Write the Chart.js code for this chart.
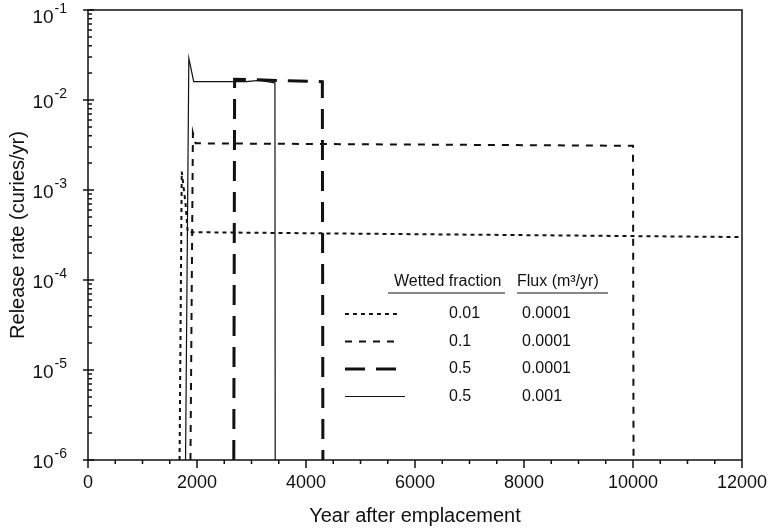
<!DOCTYPE html>
<html>
<head>
<meta charset="utf-8">
<script src="https://cdn.jsdelivr.net/npm/chart.js@4.4.1/dist/chart.umd.min.js"></script>
<style>
html,body{margin:0;padding:0;background:#fff;}
#wrap{width:776px;height:530px;}
</style>
</head>
<body>
<div id="wrap"><canvas id="my_Chart"></canvas></div>
<script>
// release rate (curies/yr) against year after emplacement
var dottedYears = [1680, 1720, 1790, 1830, 12000];
var dottedRates = [1e-6, 1.6e-3, 7e-4, 3.4e-4, 3.0e-4];

var dashedYears = [1880, 1925, 1975, 10000, 10010];
var dashedRates = [1e-6, 4.3e-3, 3.3e-3, 3.1e-3, 1e-6];

var longDashYears = [2675, 2690, 4300, 4310];
var longDashRates = [1e-6, 1.7e-2, 1.6e-2, 1e-6];

var solidYears = [1790, 1850, 1940, 2900, 3150, 3430, 3435];
var solidRates = [1e-6, 2.9e-2, 1.6e-2, 1.6e-2, 1.65e-2, 1.55e-2, 1e-6];

var wettedFractions = ['0.01', '0.1', '0.5', '0.5'];
var fluxes = ['0.0001', '0.0001', '0.0001', '0.001'];

var xTickValues = [0, 2000, 4000, 6000, 8000, 10000, 12000];
var yTickValues = [1e-6, 1e-5, 1e-4, 1e-3, 1e-2, 1e-1];
var yTickExponents = ['-6', '-5', '-4', '-3', '-2', '-1'];

function pts(xs, ys){
	var out = [];
	for (var i = 0; i < xs.length; i++) out.push({x: xs[i], y: ys[i]});
	return out;
}

var ink = '#111';
var FONT = "'Liberation Sans', Arial, sans-serif";

var series = [
	{data: pts(dottedYears, dottedRates), dash: [4, 4], width: 2},
	{data: pts(dashedYears, dashedRates), dash: [7, 7], width: 2},
	{data: pts(longDashYears, longDashRates), dash: [20, 11], width: 3},
	{data: pts(solidYears, solidRates), dash: [], width: 1.2}
];

var frame = {
	id: 'frame',
	afterDraw: function(chart){
		var ctx = chart.ctx, a = chart.chartArea;
		var xs = chart.scales.x, ys = chart.scales.y;
		ctx.save();
		ctx.strokeStyle = ink;
		ctx.lineWidth = 1.5;
		ctx.setLineDash([]);
		ctx.strokeRect(a.left, a.top, a.right - a.left, a.bottom - a.top);

		ctx.beginPath();
		for (var v = xs.min; v <= xs.max; v += 500) {
			var px = xs.getPixelForValue(v);
			var len = v % 2000 === 0 ? 8 : 4;
			ctx.moveTo(px, a.bottom);
			ctx.lineTo(px, a.bottom + len);
		}
		for (var d = 0; d < yTickValues.length; d++) {
			for (var m = 1; m <= 9; m++) {
				var val = m * yTickValues[d];
				if (val > ys.max * 1.0001) break;
				var py = ys.getPixelForValue(val);
				if (m === 1) { ctx.moveTo(a.left - 5, py); ctx.lineTo(a.left + 6, py); }
				else { ctx.moveTo(a.left, py); ctx.lineTo(a.left + 4, py); }
			}
		}
		ctx.stroke();

		// y tick labels: 10 with a raised exponent
		ctx.fillStyle = ink;
		ctx.textBaseline = 'middle';
		ctx.textAlign = 'right';
		for (var k = 0; k < yTickValues.length; k++) {
			var ty = ys.getPixelForValue(yTickValues[k]) + (k === yTickValues.length - 1 ? 8 : 3);
			var ex = a.left - 21;
			ctx.font = '14px ' + FONT;
			var ew = ctx.measureText(yTickExponents[k]).width;
			ctx.fillText(yTickExponents[k], ex, ty - 9);
			ctx.font = '19px ' + FONT;
			ctx.fillText('10', ex - ew - 1, ty);
		}

		// legend table
		var lx = a.left + 257, hy = a.top + 272;
		ctx.font = '16px ' + FONT;
		ctx.textAlign = 'left';
		ctx.fillText('Wetted fraction', lx + 49, hy);
		ctx.fillText('Flux (m\u00B3/yr)', lx + 172, hy);
		ctx.lineWidth = 1.2;
		ctx.beginPath();
		ctx.moveTo(lx + 43, hy + 11); ctx.lineTo(lx + 160, hy + 11);
		ctx.moveTo(lx + 172, hy + 11); ctx.lineTo(lx + 263, hy + 11);
		ctx.stroke();
		for (var i = 0; i < series.length; i++) {
			var ry = hy + 32 + i * 27.5;
			ctx.lineWidth = series[i].width;
			ctx.setLineDash(series[i].dash);
			ctx.beginPath();
			ctx.moveTo(lx, ry);
			ctx.lineTo(lx + (i === 3 ? 60 : 55), ry);
			ctx.stroke();
			ctx.setLineDash([]);
			ctx.fillText(wettedFractions[i], lx + 104, ry);
			ctx.fillText(fluxes[i], lx + 177, ry);
		}
		ctx.restore();
	}
};

new Chart(document.getElementById('my_Chart'), {
	type: 'line',
	data: {
		datasets: series.map(function(s){
			return {
				data: s.data,
				borderColor: ink,
				borderWidth: s.width,
				borderDash: s.dash,
				pointRadius: 0,
				tension: 0,
				fill: false,
				clip: false
			};
		})
	},
	options: {
		responsive: true,
		maintainAspectRatio: false,
		animation: false,
		layout: {padding: {top: 10, right: 34, left: 0, bottom: 0}},
		plugins: {legend: {display: false}, tooltip: {enabled: false}},
		scales: {
			x: {
				type: 'linear',
				min: 0,
				max: 12000,
				afterFit: function(s){ s.height = 70; s.paddingLeft = 0; s.paddingRight = 0; },
				afterBuildTicks: function(s){ s.ticks = xTickValues.map(function(v){ return {value: v}; }); },
				grid: {display: false, drawTicks: false},
				border: {display: false},
				ticks: {
					color: ink,
					font: {family: FONT, size: 18},
					padding: 12,
					maxRotation: 0,
					callback: function(v){ return String(v); }
				},
				title: {display: true, text: 'Year after emplacement', color: ink, font: {family: FONT, size: 20}, padding: {top: 4, bottom: 2}}
			},
			y: {
				type: 'logarithmic',
				min: 1e-6,
				max: 1e-1,
				afterFit: function(s){ s.width = 88; s.paddingTop = 0; s.paddingBottom = 0; },
				afterBuildTicks: function(s){ s.ticks = yTickValues.map(function(v){ return {value: v}; }); },
				grid: {display: false, drawTicks: false},
				border: {display: false},
				ticks: {display: false},
				title: {display: true, text: 'Release rate (curies/yr)', color: ink, font: {family: FONT, size: 20}, padding: {top: 6, bottom: 4}}
			}
		}
	},
	plugins: [frame]
});
</script>
</body>
</html>
